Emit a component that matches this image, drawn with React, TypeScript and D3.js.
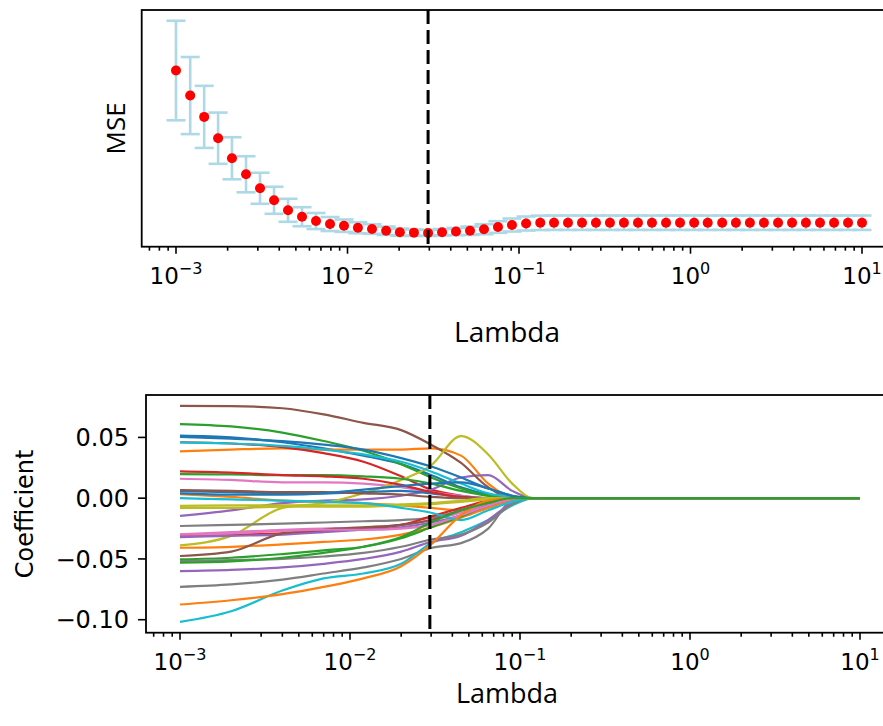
import * as d3 from "d3";

const W = 883;
const H = 726;

// lambda grid used by the CV curve (50 points, 1e-3 .. 1e1)
const lambdaGrid = [
  0.001, 0.00121, 0.00146, 0.00176, 0.00212, 0.00256, 0.00309, 0.00373, 0.0045, 0.00543,
  0.00655, 0.00791, 0.00954, 0.0115, 0.0139, 0.0168, 0.0202, 0.0244, 0.0295, 0.0356,
  0.0429, 0.0518, 0.0625, 0.0754, 0.091, 0.11, 0.133, 0.16, 0.193, 0.233,
  0.281, 0.339, 0.409, 0.494, 0.596, 0.72, 0.869, 1.05, 1.26, 1.53,
  1.84, 2.22, 2.68, 3.24, 3.91, 4.71, 5.69, 6.87, 8.29, 10,
];

const mseMean = [
  0.4173, 0.3923, 0.371, 0.3497, 0.3297, 0.3137, 0.2997, 0.2877, 0.2777, 0.2713,
  0.267, 0.264, 0.2623, 0.2603, 0.259, 0.2573, 0.2558, 0.2554, 0.2551, 0.2558,
  0.2565, 0.2573, 0.2588, 0.261, 0.263, 0.2645, 0.2652, 0.2653, 0.2653, 0.2653,
  0.2653, 0.2653, 0.2653, 0.2653, 0.2653, 0.2653, 0.2653, 0.2653, 0.2653, 0.2653,
  0.2653, 0.2653, 0.2653, 0.2653, 0.2653, 0.2653, 0.2653, 0.2653, 0.2653, 0.2653,
];

const mseStd = [
  0.0497, 0.0385, 0.031, 0.0256, 0.021, 0.018, 0.0155, 0.0135, 0.0115, 0.0095,
  0.008, 0.007, 0.0062, 0.0055, 0.0048, 0.0042, 0.0036, 0.0032, 0.003, 0.0032,
  0.0036, 0.0042, 0.005, 0.0058, 0.0065, 0.007, 0.0072, 0.0072, 0.0072, 0.0072,
  0.0072, 0.0072, 0.0072, 0.0072, 0.0072, 0.0072, 0.0072, 0.0072, 0.0072, 0.0072,
  0.0072, 0.0072, 0.0072, 0.0072, 0.0072, 0.0072, 0.0072, 0.0072, 0.0072, 0.0072,
];

const bestLambda = 0.0295;

// lambdas at which the coefficient paths were read
const pathLambdas = [0.001, 0.002, 0.004, 0.007, 0.012, 0.02, 0.03, 0.045, 0.065, 0.09, 0.12, 10];

const coefPaths = [
  [0.0514, 0.05, 0.046, 0.041, 0.035, 0.028, 0.019, 0.009, 0.003, 0, 0, 0],
  [0.0385, 0.04, 0.041, 0.04, 0.04, 0.04, 0.041, 0.035, 0.012, 0.001, 0, 0],
  [0.061, 0.059, 0.054, 0.047, 0.039, 0.028, 0.017, 0.008, 0.002, 0, 0, 0],
  [0.046, 0.045, 0.042, 0.037, 0.03, 0.018, 0.007, 0.002, 0, 0, 0, 0],
  [-0.0146, -0.01, -0.004, -0.002, -0.001, 0.002, 0.007, 0.017, 0.019, 0.006, 0, 0],
  [0.076, 0.0758, 0.074, 0.069, 0.062, 0.056, 0.044, 0.029, 0.009, 0, 0, 0],
  [0.016, 0.015, 0.013, 0.013, 0.012, 0.009, 0.005, 0.002, 0, 0, 0, 0],
  [-0.073, -0.071, -0.067, -0.062, -0.057, -0.05, -0.041, -0.037, -0.025, -0.002, 0, 0],
  [-0.0388, -0.031, -0.008, -0.004, 0.004, 0.015, 0.027, 0.051, 0.036, 0.012, 0, 0],
  [-0.1018, -0.093, -0.076, -0.066, -0.062, -0.054, -0.037, -0.028, -0.018, -0.006, 0, 0],
  [0.0058, 0.005, 0.004, 0.004, 0.005, 0.006, 0.004, 0.001, 0, 0, 0, 0],
  [0.0033, 0.001, -0.002, -0.003, -0.004, -0.006, -0.008, -0.01, -0.006, -0.001, 0, 0],
  [0.0198, 0.0195, 0.019, 0.019, 0.018, 0.016, 0.012, 0.006, 0.002, 0, 0, 0],
  [0.022, 0.021, 0.019, 0.018, 0.016, 0.011, 0.005, 0.001, 0, 0, 0, 0],
  [-0.06, -0.059, -0.057, -0.054, -0.05, -0.044, -0.036, -0.031, -0.018, -0.004, 0, 0],
  [0.0066, 0.006, 0.005, 0.005, 0.004, 0.003, 0.001, 0, 0, 0, 0, 0],
  [-0.0297, -0.028, -0.026, -0.025, -0.024, -0.022, -0.018, -0.012, -0.005, -0.001, 0, 0],
  [-0.0229, -0.022, -0.021, -0.02, -0.019, -0.018, -0.016, -0.01, -0.004, 0, 0, 0],
  [-0.0064, -0.006, -0.006, -0.006, -0.006, -0.005, -0.004, -0.002, 0, 0, 0, 0],
  [0.0459, 0.045, 0.043, 0.04, 0.036, 0.03, 0.022, 0.012, 0.004, 0.001, 0, 0],
  [0.004, 0.003, 0.003, 0.004, 0.007, 0.01, 0.012, 0.013, 0.008, 0.002, 0, 0],
  [-0.0408, -0.04, -0.038, -0.036, -0.034, -0.03, -0.024, -0.016, -0.008, -0.002, 0, 0],
  [-0.0503, -0.049, -0.046, -0.043, -0.04, -0.033, -0.024, -0.015, -0.006, -0.001, 0, 0],
  [-0.031, -0.03, -0.029, -0.027, -0.025, -0.022, -0.015, -0.008, -0.002, 0, 0, 0],
  [-0.032, -0.031, -0.03, -0.028, -0.026, -0.024, -0.02, -0.014, -0.006, -0.001, 0, 0],
  [-0.0476, -0.044, -0.029, -0.026, -0.024, -0.022, -0.018, -0.01, -0.003, 0, 0, 0],
  [-0.03, -0.029, -0.027, -0.026, -0.026, -0.025, -0.022, -0.014, -0.006, -0.001, 0, 0],
  [-0.0517, -0.051, -0.05, -0.048, -0.045, -0.04, -0.034, -0.03, -0.02, -0.005, 0, 0],
  [-0.008, -0.008, -0.007, -0.007, -0.007, -0.006, -0.005, -0.003, -0.001, 0, 0, 0],
  [0, -0.001, -0.002, -0.003, -0.004, -0.008, -0.012, -0.018, -0.01, -0.003, 0, 0],
  [0.0505, 0.049, 0.047, 0.044, 0.04, 0.033, 0.026, 0.017, 0.008, 0.002, 0, 0],
  [-0.0875, -0.084, -0.079, -0.073, -0.066, -0.056, -0.038, -0.014, -0.002, 0, 0, 0],
  [-0.053, -0.052, -0.049, -0.045, -0.04, -0.032, -0.02, -0.01, -0.004, 0, 0, 0],
];

const coefTicks = [0.05, 0, -0.05, -0.1];
const coefTickLabels = ["0.05", "0.00", "\u22120.05", "\u22120.10"];

const TICK_FONT = "'DejaVu Sans', sans-serif";
const LABEL_FONT = "'Open Sans', sans-serif";

// matplotlib-like 5% margins
function logPad(lo: number, hi: number): [number, number] {
  const a = Math.log10(lo);
  const b = Math.log10(hi);
  const p = (b - a) * 0.05;
  return [Math.pow(10, a - p), Math.pow(10, b + p)];
}
function linPad(lo: number, hi: number): [number, number] {
  const p = (hi - lo) * 0.05;
  return [lo - p, hi + p];
}

function isDecade(t: number) {
  const l = Math.log10(t);
  return Math.abs(l - Math.round(l)) < 1e-6;
}

function LogXAxis({ x, y0 }: { x: d3.ScaleLogarithmic<number, number>; y0: number }) {
  const ticks = x.ticks();
  return (
    <g>
      {ticks.map((t, i) => {
        const major = isDecade(t);
        const px = x(t);
        const e = Math.round(Math.log10(t));
        return (
          <g key={i}>
            <line x1={px} x2={px} y1={y0} y2={y0 + (major ? 7 : 4)} stroke="#000" strokeWidth={1.6} />
            {major && (
              <text x={px} y={y0 + 37} textAnchor="middle" fontFamily={TICK_FONT} fontSize={23} fill="#000">
                10
                <tspan dy={-10} fontSize={16}>
                  {e < 0 ? "\u2212" + Math.abs(e) : String(e)}
                </tspan>
              </text>
            )}
          </g>
        );
      })}
    </g>
  );
}

function TopPanel() {
  const f = { left: 141.7, right: 896.3, top: 10, bottom: 246.7 };
  const x = d3.scaleLog().domain(logPad(lambdaGrid[0], lambdaGrid[lambdaGrid.length - 1])).range([f.left, f.right]);
  const lo = d3.min(mseMean.map((m, i) => m - mseStd[i])) as number;
  const hi = d3.max(mseMean.map((m, i) => m + mseStd[i])) as number;
  const y = d3.scaleLinear().domain(linPad(lo, hi)).range([f.bottom, f.top]);
  const cap = 9.5;
  const midY = (f.top + f.bottom) / 2;
  return (
    <g>
      <g stroke="#add8e6" strokeWidth={2.6} fill="none">
        {lambdaGrid.map((l, i) => {
          const cx = x(l);
          const yt = y(mseMean[i] + mseStd[i]);
          const yb = y(mseMean[i] - mseStd[i]);
          return (
            <g key={i}>
              <line x1={cx} x2={cx} y1={yt} y2={yb} />
              <line x1={cx - cap} x2={cx + cap} y1={yt} y2={yt} />
              <line x1={cx - cap} x2={cx + cap} y1={yb} y2={yb} />
            </g>
          );
        })}
      </g>
      <g fill="#ff0000">
        {lambdaGrid.map((l, i) => (
          <circle key={i} cx={x(l)} cy={y(mseMean[i])} r={5} />
        ))}
      </g>
      <line x1={x(bestLambda)} x2={x(bestLambda)} y1={f.top} y2={f.bottom} stroke="#000" strokeWidth={3} strokeDasharray="14,6" />
      <rect x={f.left} y={f.top} width={f.right - f.left} height={f.bottom - f.top} fill="none" stroke="#000" strokeWidth={1.8} />
      <LogXAxis x={x} y0={f.bottom} />
      <text x={507} y={341.5} textAnchor="middle" fontFamily={LABEL_FONT} fontSize={28} fill="#000">
        Lambda
      </text>
      <text x={125} y={midY} transform={`rotate(-90 125 ${midY})`} textAnchor="middle" fontFamily={LABEL_FONT} fontSize={26} fill="#000">
        MSE
      </text>
    </g>
  );
}

function BottomPanel() {
  const f = { left: 146, right: 894, top: 395, bottom: 632.7 };
  const x = d3.scaleLog().domain(logPad(pathLambdas[0], pathLambdas[pathLambdas.length - 1])).range([f.left, f.right]);
  const all = coefPaths.flat();
  const y = d3.scaleLinear().domain(linPad(d3.min(all) as number, d3.max(all) as number)).range([f.bottom, f.top]);
  const line = d3
    .line<number>()
    .x((_, i) => x(pathLambdas[i]))
    .y((v) => y(v))
    .curve(d3.curveMonotoneX);
  const colors = d3.schemeCategory10;
  const midY = (f.top + f.bottom) / 2;
  return (
    <g>
      <defs>
        <clipPath id="coefClip">
          <rect x={f.left} y={f.top} width={f.right - f.left} height={f.bottom - f.top} />
        </clipPath>
      </defs>
      <g clipPath="url(#coefClip)" fill="none" strokeWidth={2.2} strokeLinejoin="round">
        {coefPaths.map((p, i) => (
          <path key={i} d={line(p) || ""} stroke={colors[i % 10]} />
        ))}
      </g>
      <line x1={x(bestLambda)} x2={x(bestLambda)} y1={f.top} y2={f.bottom} stroke="#000" strokeWidth={3} strokeDasharray="14,6" />
      <rect x={f.left} y={f.top} width={f.right - f.left} height={f.bottom - f.top} fill="none" stroke="#000" strokeWidth={1.8} />
      <LogXAxis x={x} y0={f.bottom} />
      {coefTicks.map((t, i) => (
        <g key={i}>
          <line x1={f.left - 8} x2={f.left} y1={y(t)} y2={y(t)} stroke="#000" strokeWidth={1.6} />
          <text x={f.left - 17} y={y(t)} dy="0.36em" textAnchor="end" fontFamily={TICK_FONT} fontSize={24} fill="#000">
            {coefTickLabels[i]}
          </text>
        </g>
      ))}
      <text x={507} y={703} textAnchor="middle" fontFamily={LABEL_FONT} fontSize={27} fill="#000">
        Lambda
      </text>
      <text x={33} y={midY} transform={`rotate(-90 33 ${midY})`} textAnchor="middle" fontFamily={TICK_FONT} fontSize={24} fill="#000">
        Coefficient
      </text>
    </g>
  );
}

export default function App() {
  return (
    <div style={{ position: "absolute", left: 0, top: 0, width: W, height: H, overflow: "hidden", background: "#fff" }}>
      <svg width={W} height={H} viewBox={`0 0 ${W} ${H}`} style={{ display: "block" }}>
        <rect width={W} height={H} fill="#fff" />
        <TopPanel />
        <BottomPanel />
      </svg>
    </div>
  );
}
